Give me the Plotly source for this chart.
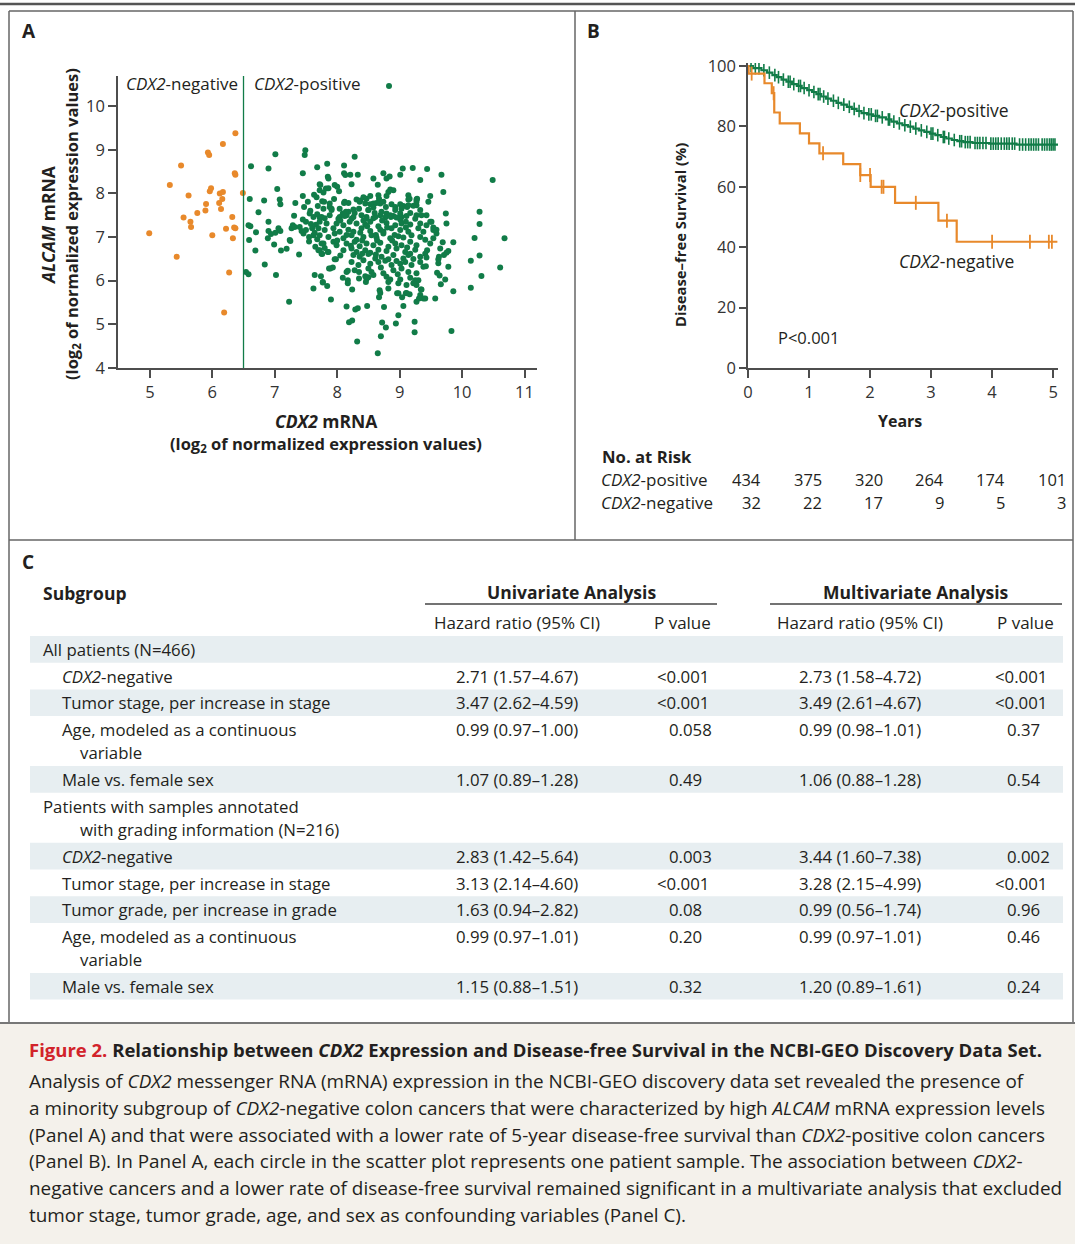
import plotly.graph_objects as go

W, H = 1075, 1244
FONT = "Open Sans"
GREEN = "#117c48"
ORANGE = "#e8892b"
INK = "#231f20"
AXC = "#4d4d4d"
SHADE = "#e7eef1"
BEIGE = "#f4f1eb"
RED = "#d2232a"

# ---------------- Panel A data (log2 CDX2 mRNA, log2 ALCAM mRNA) ----------------
neg_x = [6.37, 6.17, 5.93, 5.95, 5.50, 6.36, 6.37, 5.32, 5.98, 5.96, 5.62, 6.12, 6.17, 6.49, 6.16, 5.90, 6.11,
         6.14, 5.89, 5.76, 5.54, 6.32, 5.65, 5.66, 4.99, 6.22, 6.35, 6.37, 6.00, 6.33, 5.43, 6.27, 6.19]
neg_y = [9.38, 9.13, 8.94, 8.88, 8.64, 8.46, 8.43, 8.19, 8.12, 8.05, 7.95, 8.00, 8.03, 8.01, 7.87, 7.76, 7.78,
         7.64, 7.61, 7.55, 7.45, 7.46, 7.35, 7.23, 7.09, 7.19, 7.22, 7.20, 7.04, 6.97, 6.55, 6.19, 5.27]

pos_pts = [
    (8.83, 10.46), (6.62, 8.62), (6.90, 8.57), (7.01, 8.90), (7.49, 8.99), (7.48, 8.88), (7.45, 8.46), (7.68, 8.60),
    (7.84, 8.68), (8.28, 8.84), (8.11, 8.64), (7.85, 8.38), (8.11, 8.46), (8.13, 8.42), (8.21, 8.43), (8.33, 8.43),
    (8.58, 8.34), (8.74, 8.46), (8.79, 8.34), (8.84, 8.39), (8.65, 8.20), (8.23, 8.21), (9.05, 8.57), (9.21, 8.58),
    (9.44, 8.56), (9.01, 8.43), (9.33, 8.31), (9.67, 8.43), (10.49, 8.31), (9.70, 8.03), (9.49, 7.94), (9.46, 7.81),
    (9.74, 7.54), (10.28, 7.58), (9.75, 7.31), (10.28, 7.30), (10.20, 6.98), (10.68, 6.97), (9.86, 6.88), (10.28, 6.58),
    (10.14, 6.46), (10.61, 6.30), (10.31, 6.11), (10.14, 5.84), (9.86, 5.76), (9.57, 5.59), (9.83, 4.85), (9.78, 6.68),
    (9.75, 6.64), (9.71, 6.59), (9.63, 6.55), (9.62, 6.40), (9.78, 6.32), (9.60, 6.18), (9.64, 6.12), (9.73, 6.03),
    (9.66, 5.92), (9.69, 6.88), (9.65, 6.74), (9.59, 7.08), (9.59, 7.17), (9.54, 7.22), (9.49, 7.35), (9.43, 7.50),
    (9.27, 7.73), (9.33, 7.62), (9.44, 6.70), (9.41, 6.62), (9.38, 6.32), (9.42, 6.33), (9.27, 6.17), (9.30, 6.01),
    (9.27, 5.90), (9.35, 5.80), (9.33, 5.67), (9.38, 5.59), (9.27, 5.52),
    (7.90, 5.57), (8.15, 5.41), (8.29, 5.34), (8.33, 5.37), (8.48, 5.42), (8.75, 5.40), (9.06, 5.42), (8.19, 5.05),
    (8.24, 5.09), (8.32, 4.61), (8.65, 4.34), (8.70, 4.73), (8.72, 5.04), (8.78, 4.93), (8.94, 5.02), (8.98, 5.21),
    (9.24, 5.06), (9.24, 4.82), (8.67, 5.62), (8.69, 5.72), (8.68, 5.78), (8.96, 5.71), (9.04, 5.62), (9.10, 5.71),
    (9.16, 5.69), (9.31, 5.59), (9.41, 5.59), (9.34, 5.80), (8.24, 5.80), (8.17, 5.94), (8.17, 6.01), (8.09, 6.07),
    (7.84, 5.88), (7.77, 5.97), (8.46, 5.97), (8.47, 6.04), (8.50, 6.08), (8.35, 6.05), (8.35, 6.20), (8.15, 6.20),
    (8.17, 6.23), (7.93, 6.30), (7.89, 6.28), (7.98, 6.49),
    (6.74, 7.57), (7.31, 7.49), (7.45, 7.40), (6.58, 7.27), (6.61, 7.25), (6.70, 7.11), (6.90, 7.35), (6.90, 7.14),
    (6.94, 7.07), (7.01, 7.10), (7.06, 7.20), (7.09, 7.14), (6.89, 6.97), (6.59, 6.93), (6.99, 6.83), (6.69, 6.69),
    (7.10, 6.69), (7.19, 6.73), (7.24, 6.93), (7.25, 6.91), (7.39, 6.60), (7.29, 7.27), (7.27, 7.20), (7.32, 7.23),
    (7.40, 7.23), (7.43, 7.14), (7.46, 7.08), (7.50, 7.16), (7.55, 6.90), (7.62, 7.04), (7.64, 7.10), (7.76, 6.61),
    (7.85, 6.66), (6.54, 6.20), (6.58, 6.15), (6.84, 6.37), (7.02, 6.13), (7.23, 5.52), (7.64, 6.13), (7.74, 6.10),
    (7.77, 5.96), (7.62, 5.82), (7.87, 6.28),
    (6.60, 7.87), (6.83, 7.84), (7.04, 8.10), (7.08, 7.86), (7.09, 7.75), (7.33, 7.78), (7.45, 7.94), (7.47, 7.69),
    (7.53, 7.81), (7.57, 7.60), (7.63, 7.97), (7.67, 7.91), (7.69, 7.71), (7.72, 8.07), (7.73, 8.19), (7.76, 7.82),
    (7.79, 7.81), (7.78, 8.02), (7.82, 8.11), (7.86, 8.34), (7.86, 8.12), (7.56, 7.54), (7.62, 7.46), (7.68, 7.52),
    (7.72, 7.45),
    (7.72, 8.21), (7.96, 8.19), (8.00, 8.15), (8.03, 8.05), (7.95, 7.87), (8.31, 7.86), (8.37, 7.84), (8.42, 7.91),
    (8.47, 7.88), (8.53, 7.94), (8.66, 7.96), (8.67, 7.88), (8.11, 7.78), (8.18, 7.78), (7.88, 7.69), (7.91, 7.65),
    (8.45, 7.77), (8.53, 7.75), (8.58, 7.77), (8.69, 7.77), (8.35, 7.65), (8.50, 7.62), (8.85, 8.09), (8.90, 8.07),
    (8.82, 8.03), (8.79, 7.94), (9.27, 7.86), (9.14, 7.96), (9.16, 7.88), (8.74, 7.81), (8.78, 7.69), (8.87, 7.75),
    (8.93, 7.69), (9.01, 7.75), (9.06, 7.71), (9.12, 7.69), (9.22, 7.72), (9.14, 7.86), (9.28, 7.88), (8.09, 7.54),
    (8.15, 7.50), (8.26, 7.46), (8.18, 7.58), (8.69, 7.50), (8.79, 7.54), (8.86, 7.46), (8.90, 7.48), (9.01, 7.54),
    (9.03, 7.46), (9.27, 7.50), (7.80, 7.43), (8.04, 7.46), (8.47, 7.46), (8.58, 7.43),
    (7.88, 7.77), (8.12, 7.81), (8.36, 7.81), (8.63, 7.78), (9.14, 7.73), (9.27, 7.81),
    (7.78, 7.65), (7.91, 7.62), (8.04, 7.65), (8.14, 7.58), (8.26, 7.63), (8.50, 7.62), (8.58, 7.68), (8.71, 7.58),
    (8.93, 7.62), (9.03, 7.65), (9.17, 7.55),
    (7.75, 7.46), (7.88, 7.50), (8.02, 7.42), (8.12, 7.48), (8.23, 7.42), (8.39, 7.50), (8.47, 7.42), (8.61, 7.46),
    (8.77, 7.45), (8.85, 7.50), (9.01, 7.40), (9.11, 7.48), (9.25, 7.42), (9.35, 7.50),
    (7.72, 7.35), (7.83, 7.31), (7.99, 7.31), (8.10, 7.27), (8.20, 7.35), (8.31, 7.31), (8.45, 7.29), (8.53, 7.35),
    (8.66, 7.25), (8.79, 7.32), (8.93, 7.27), (9.03, 7.31), (9.17, 7.29), (9.33, 7.31), (9.43, 7.27), (9.51, 7.35),
    (7.80, 7.16), (7.94, 7.20), (8.04, 7.12), (8.18, 7.17), (8.26, 7.12), (8.39, 7.20), (8.53, 7.14), (8.69, 7.17),
    (8.74, 7.12), (8.87, 7.20), (9.01, 7.16), (9.14, 7.12), (9.30, 7.20), (9.38, 7.12), (9.54, 7.16),
    (7.72, 7.04), (7.86, 7.00), (7.96, 7.08), (8.10, 6.97), (8.23, 7.04), (8.31, 6.94), (8.42, 7.00), (8.55, 7.04),
    (8.63, 6.99), (8.74, 7.08), (8.85, 6.97), (8.98, 7.02), (9.06, 6.99), (9.19, 7.04), (9.33, 7.00), (9.41, 6.94),
    (9.54, 6.97),
    (7.78, 6.85), (7.94, 6.89), (7.99, 6.81), (8.15, 6.85), (8.28, 6.89), (8.36, 6.79), (8.47, 6.85), (8.58, 6.81),
    (8.69, 6.87), (8.82, 6.78), (8.93, 6.85), (9.03, 6.81), (9.17, 6.89), (9.27, 6.81), (9.49, 6.85),
    (7.72, 6.70), (7.86, 6.66), (8.10, 6.70), (8.23, 6.74), (8.31, 6.66), (8.45, 6.70), (8.53, 6.64), (8.66, 6.71),
    (8.79, 6.68), (8.95, 6.74), (9.09, 6.66), (9.17, 6.62), (9.25, 6.71),
    (7.75, 6.62), (7.96, 6.49), (8.26, 6.59), (8.36, 6.55), (8.50, 6.61), (8.61, 6.51), (8.71, 6.55), (8.82, 6.49),
    (8.90, 6.59), (9.06, 6.51), (9.14, 6.59), (9.33, 6.55), (9.43, 6.53), (9.62, 6.49),
    (8.23, 6.43), (8.34, 6.36), (8.53, 6.39), (8.66, 6.43), (8.77, 6.46), (8.87, 6.36), (9.01, 6.39), (9.09, 6.43),
    (9.19, 6.36), (9.33, 6.43),
    (8.28, 6.24), (8.50, 6.28), (8.55, 6.20), (8.74, 6.17), (8.90, 6.24), (9.03, 6.28), (9.14, 6.20),
    (8.45, 6.10), (8.58, 6.13), (8.79, 6.09), (8.85, 6.03), (9.01, 6.03), (9.17, 6.07), (9.25, 6.01),
    (8.82, 5.97), (8.98, 5.94), (9.11, 5.90), (9.22, 5.94), (8.82, 5.82), (8.98, 5.71), (9.11, 5.72),
    (7.50, 7.35), (7.58, 7.30), (7.66, 7.28), (7.70, 7.20), (7.60, 7.20), (7.55, 7.00), (7.68, 6.95), (7.75, 6.85),
    (7.65, 6.78), (7.80, 6.75), (7.70, 6.70),
    (8.05, 7.38), (8.28, 7.55), (8.42, 7.38), (8.60, 7.55), (8.72, 7.38), (8.95, 7.45), (9.10, 7.35), (8.15, 7.05),
    (8.37, 7.10), (8.48, 7.25), (8.62, 7.05), (8.80, 7.22), (8.92, 7.05), (9.10, 7.22), (8.00, 6.92), (8.22, 6.80),
    (8.40, 6.92), (8.64, 6.92), (8.88, 6.92), (9.12, 6.76), (8.05, 6.58), (8.42, 6.47), (8.62, 6.60), (8.95, 6.45),
    (9.22, 6.50), (8.40, 6.62), (8.70, 6.30), (8.97, 6.15),
]
pos_x = [p[0] for p in pos_pts]
pos_y = [p[1] for p in pos_pts]
cutoff = 6.5

# ---------------- Panel B data (Kaplan-Meier) ----------------
pos_t = [0, 0.08, 0.22, 0.31, 0.40, 0.47, 0.55, 0.63, 0.72, 0.80, 0.88, 0.97, 1.05, 1.12, 1.20, 1.28, 1.36, 1.45,
         1.53, 1.62, 1.70, 1.78, 1.86, 1.95, 2.05, 2.15, 2.26, 2.35, 2.44, 2.53, 2.62, 2.71, 2.80, 2.89, 2.98, 3.07,
         3.16, 3.25, 3.34, 3.43, 3.53, 3.68, 3.95, 4.40]
pos_s = [100, 99.3, 98.6, 97.8, 97.0, 96.3, 95.5, 94.8, 94.0, 93.4, 92.7, 92.0, 91.4, 90.7, 89.9, 89.2, 88.5, 87.8,
         87.2, 86.5, 85.8, 85.1, 84.4, 84.0, 83.5, 83.0, 82.3, 81.6, 81.0, 80.4, 79.9, 79.3, 78.7, 78.2, 77.6, 77.1,
         76.5, 76.0, 75.5, 75.1, 74.8, 74.5, 74.3, 74.0]
pos_end = 5.08
pos_cens = [0.05, 0.12, 0.18, 0.26, 0.35, 0.44, 0.50, 0.58, 0.66, 0.69, 0.75, 0.83, 0.86, 0.92, 1.00, 1.08, 1.15,
            1.18, 1.24, 1.31, 1.40, 1.48, 1.57, 1.66, 1.74, 1.82, 1.90, 1.98, 2.02, 2.09, 2.12, 2.20, 2.30, 2.32,
            2.39, 2.48, 2.57, 2.66, 2.75, 2.84, 2.93, 3.00, 3.03, 3.11, 3.20, 3.22, 3.29, 3.38, 3.47, 3.50, 3.56,
            3.60, 3.64, 3.72, 3.76, 3.80, 3.85, 3.90, 3.98, 4.02, 4.06, 4.10, 4.15, 4.20, 4.24, 4.28, 4.33, 4.37,
            4.45, 4.50, 4.55, 4.60, 4.64, 4.68, 4.72, 4.76, 4.82, 4.86, 4.90, 4.94, 4.97, 5.00, 5.03]

neg_t = [0, 0.01, 0.27, 0.39, 0.43, 0.52, 0.85, 1.00, 1.17, 1.56, 1.84, 2.01, 2.41, 3.12, 3.42]
neg_s = [100, 97.5, 94.3, 91.0, 84.6, 81.0, 77.7, 74.4, 71.1, 67.5, 63.9, 60.0, 54.7, 48.8, 41.8]
neg_end = 5.07
neg_cens = [0.06, 0.42, 1.23, 1.84, 2.00, 2.19, 2.22, 2.75, 3.26, 4.00, 4.62, 4.93, 4.98]

risk_years = [0, 1, 2, 3, 4, 5]
risk_pos = [434, 375, 320, 264, 174, 101]
risk_neg = [32, 22, 17, 9, 5, 3]

# ---------------- Panel C data (table) ----------------
row_labels = ["All patients (N=466)", "<i>CDX2</i>-negative", "Tumor stage, per increase in stage",
              "Age, modeled as a continuous|variable", "Male vs. female sex",
              "Patients with samples annotated|with grading information (N=216)", "<i>CDX2</i>-negative",
              "Tumor stage, per increase in stage", "Tumor grade, per increase in grade",
              "Age, modeled as a continuous|variable", "Male vs. female sex"]
row_header = [True, False, False, False, False, True, False, False, False, False, False]
uni_hr = ["", "2.71 (1.57–4.67)", "3.47 (2.62–4.59)", "0.99 (0.97–1.00)", "1.07 (0.89–1.28)",
          "", "2.83 (1.42–5.64)", "3.13 (2.14–4.60)", "1.63 (0.94–2.82)", "0.99 (0.97–1.01)", "1.15 (0.88–1.51)"]
uni_p = ["", "<0.001", "<0.001", "0.058", "0.49", "", "0.003", "<0.001", "0.08", "0.20", "0.32"]
multi_hr = ["", "2.73 (1.58–4.72)", "3.49 (2.61–4.67)", "0.99 (0.98–1.01)", "1.06 (0.88–1.28)",
            "", "3.44 (1.60–7.38)", "3.28 (2.15–4.99)", "0.99 (0.56–1.74)", "0.99 (0.97–1.01)", "1.20 (0.89–1.61)"]
multi_p = ["", "<0.001", "<0.001", "0.37", "0.54", "", "0.002", "<0.001", "0.96", "0.46", "0.24"]

caption_title = ("<span style='color:" + RED + "'>Figure 2.</span> Relationship between <i>CDX2</i> Expression "
                 "and Disease-free Survival in the NCBI-GEO Discovery Data Set.")
caption_lines = [
    "Analysis of <i>CDX2</i> messenger RNA (mRNA) expression in the NCBI-GEO discovery data set revealed the presence of",
    "a minority subgroup of <i>CDX2</i>-negative colon cancers that were characterized by high <i>ALCAM</i> mRNA expression levels",
    "(Panel A) and that were associated with a lower rate of 5-year disease-free survival than <i>CDX2</i>-positive colon cancers",
    "(Panel B). In Panel A, each circle in the scatter plot represents one patient sample. The association between <i>CDX2</i>-",
    "negative cancers and a lower rate of disease-free survival remained significant in a multivariate analysis that excluded",
    "tumor stage, tumor grade, age, and sex as confounding variables (Panel C).",
]


# ---------------- helpers ----------------
def fx(x):
    return x / W


def fy(y):
    return 1 - y / H


annotations = []
shapes = []


def text(t, x, y, size=17, anchor="left", bold=False, angle=0, color=INK, xref="paper", xshift=0):
    if bold:
        t = "<b>" + t + "</b>"
    annotations.append(dict(text=t, x=(fx(x) if xref == "paper" else x), y=fy(y), xref=xref, yref="paper",
                            xanchor=anchor, yanchor="middle", showarrow=False, textangle=angle, xshift=xshift,
                            font=dict(family=FONT, size=size, color=color)))


def hline(x0, x1, y, width=1.5, color=AXC):
    shapes.append(dict(type="line", xref="paper", yref="paper", x0=fx(x0), x1=fx(x1), y0=fy(y), y1=fy(y),
                       line=dict(color=color, width=width)))


def vline(x, y0, y1, width=1.5, color=AXC):
    shapes.append(dict(type="line", xref="paper", yref="paper", x0=fx(x), x1=fx(x), y0=fy(y0), y1=fy(y1),
                       line=dict(color=color, width=width)))


def step_value(ts, ss, t):
    v = ss[0]
    for ti, si in zip(ts, ss):
        if ti <= t:
            v = si
    return v


def esc(s):
    return s.replace("<0", "&lt;0")


fig = go.Figure()

# ---------------- Panel A ----------------
fig.add_trace(go.Scatter(x=pos_x, y=pos_y, mode="markers", xaxis="x", yaxis="y",
                         marker=dict(color=GREEN, size=6, line=dict(width=0)), hoverinfo="skip"))
fig.add_trace(go.Scatter(x=neg_x, y=neg_y, mode="markers", xaxis="x", yaxis="y",
                         marker=dict(color=ORANGE, size=6, line=dict(width=0)), hoverinfo="skip"))
shapes.append(dict(type="line", xref="x", yref="y", x0=cutoff, x1=cutoff, y0=4, y1=10.69,
                   line=dict(color=GREEN, width=1.3)))

# ---------------- Panel B ----------------
fig.add_trace(go.Scatter(x=pos_t + [pos_end], y=pos_s + [pos_s[-1]], mode="lines", line_shape="hv",
                         xaxis="x2", yaxis="y2", line=dict(color=GREEN, width=2.2), hoverinfo="skip"))
fig.add_trace(go.Scatter(x=pos_cens, y=[step_value(pos_t, pos_s, t) for t in pos_cens], mode="markers",
                         xaxis="x2", yaxis="y2", hoverinfo="skip",
                         marker=dict(symbol="line-ns", size=9, line=dict(color=GREEN, width=1.6))))
fig.add_trace(go.Scatter(x=neg_t + [neg_end], y=neg_s + [neg_s[-1]], mode="lines", line_shape="hv",
                         xaxis="x2", yaxis="y2", line=dict(color=ORANGE, width=2.2), hoverinfo="skip"))
fig.add_trace(go.Scatter(x=neg_cens, y=[step_value(neg_t, neg_s, t) for t in neg_cens], mode="markers",
                         xaxis="x2", yaxis="y2", hoverinfo="skip",
                         marker=dict(symbol="line-ns", size=10, line=dict(color=ORANGE, width=1.8))))

axis_common = dict(showline=True, linecolor=AXC, linewidth=1.5, ticks="outside", tickcolor=AXC, tickwidth=1.5,
                   showgrid=False, zeroline=False, tickfont=dict(family=FONT, size=16.5, color="#333"))

fig.update_layout(
    autosize=True, margin=dict(l=0, r=0, t=0, b=0, autoexpand=False), showlegend=False,
    paper_bgcolor="white", plot_bgcolor="rgba(0,0,0,0)",
    xaxis=dict(domain=[fx(118), fx(537)], range=[4.49, 11.2], tickvals=[5, 6, 7, 8, 9, 10, 11], ticklen=8,
               anchor="y", **axis_common),
    yaxis=dict(domain=[fy(368), fy(76)], range=[4, 10.69], tickvals=[4, 5, 6, 7, 8, 9, 10], ticklen=8,
               anchor="x", **axis_common),
    xaxis2=dict(domain=[fx(748), fx(1058)], range=[0, 5.08], tickvals=[0, 1, 2, 3, 4, 5], ticklen=8,
                anchor="y2", **axis_common),
    yaxis2=dict(domain=[fy(368), fy(63)], range=[0, 101], tickvals=[0, 20, 40, 60, 80, 100], ticklen=7,
                anchor="x2", **axis_common),
)

# ---------------- Frame ----------------
shapes.append(dict(type="rect", xref="paper", yref="paper", x0=0, x1=1, y0=0, y1=fy(1023), layer="below",
                   fillcolor=BEIGE, line=dict(width=0)))
hline(0, W, 4, width=2.5, color="#555")
hline(9, 1073, 11, width=1.5, color="#666")
vline(9, 11, 1023, width=1.5, color="#666")
vline(1073, 11, 1023, width=1.5, color="#666")
vline(575, 11, 540, width=1.5, color="#666")
hline(9, 1073, 540, width=1.5, color="#666")
hline(0, W, 1023, width=2, color="#777")

# ---------------- Panel A text ----------------
text("A", 20, 31, size=19, bold=True)
text("<i>CDX2</i>-negative", 124, 84, size=17)
text("<i>CDX2</i>-positive", 252, 84, size=17)
text("<i>CDX2</i> mRNA", 326, 421, size=17.5, anchor="center", bold=True)
text("(log<sub>2</sub> of normalized expression values)", 326, 444, size=16.5, anchor="center", bold=True)
text("<i>ALCAM</i> mRNA", 48, 225, size=17.5, anchor="center", bold=True, angle=-90)
text("(log<sub>2</sub> of normalized expression values)", 72, 224, size=16.5, anchor="center", bold=True, angle=-90)

# ---------------- Panel B text ----------------
text("B", 585, 31, size=19, bold=True)
text("Disease–free Survival (%)", 680, 235, size=14.8, anchor="center", bold=True, angle=-90)
text("Years", 900, 421, size=16, anchor="center", bold=True)
text("P&lt;0.001", 776, 337, size=16.5)
text("<i>CDX2</i>-positive", 897, 110, size=17.5)
text("<i>CDX2</i>-negative", 897, 261, size=17.5)
text("No. at Risk", 600, 456, size=16.7, bold=True)
text("<i>CDX2</i>-positive", 599, 480, size=17)
text("<i>CDX2</i>-negative", 599, 502, size=17)
for yr, a, b in zip(risk_years, risk_pos, risk_neg):
    text(str(a), yr, 480, size=16.5, anchor="right", xref="x2", xshift=15)
    text(str(b), yr, 502, size=16.5, anchor="right", xref="x2", xshift=15)

# ---------------- Panel C ----------------
text("C", 20, 562, size=19, bold=True)
text("Subgroup", 41, 593, size=17.5, bold=True)
text("Univariate Analysis", 571, 592, size=17.5, anchor="center", bold=True)
text("Multivariate Analysis", 916, 592, size=17.5, anchor="center", bold=True)
hline(425, 717, 604, width=1.5, color="#444")
hline(770, 1062, 604, width=1.5, color="#444")
text("Hazard ratio (95% CI)", 517, 622, size=17, anchor="center")
text("P value", 682, 622, size=17, anchor="center")
text("Hazard ratio (95% CI)", 860, 622, size=17, anchor="center")
text("P value", 1025, 622, size=17, anchor="center")

TS = 16.8
top = 636.0
for i, lab in enumerate(row_labels):
    parts = lab.split("|")
    h = 26.7 if len(parts) == 1 else 50.0
    if i % 2 == 0:
        shapes.append(dict(type="rect", xref="paper", yref="paper", x0=fx(30), x1=fx(1063), y0=fy(top + h),
                           y1=fy(top), fillcolor=SHADE, line=dict(width=0), layer="below"))
    ymid = top + 13.5
    x0 = 41 if row_header[i] else 60
    text(parts[0], x0, ymid, size=TS)
    if len(parts) > 1:
        text(parts[1], 78, ymid + 23, size=TS)
    if uni_hr[i]:
        text(uni_hr[i], 454, ymid, size=TS)
        text(esc(uni_p[i]), 655 if uni_p[i].startswith("<") else 667, ymid, size=TS)
        text(multi_hr[i], 797, ymid, size=TS)
        text(esc(multi_p[i]), 993 if multi_p[i].startswith("<") else 1005, ymid, size=TS)
    top += h

# ---------------- Caption ----------------
text(caption_title, 27, 1049, size=18.5, bold=True)
for k, line in enumerate(caption_lines):
    text(line, 27, 1081 + k * 26.8, size=18.9)

fig.update_layout(annotations=annotations, shapes=shapes)
# The page body has a default 8px margin; pin the plot div to the page origin at the exact size.
fig.write_html("out.html",
               default_width="1075px; position:absolute; left:0px; top:0px",
               default_height="1244px")
